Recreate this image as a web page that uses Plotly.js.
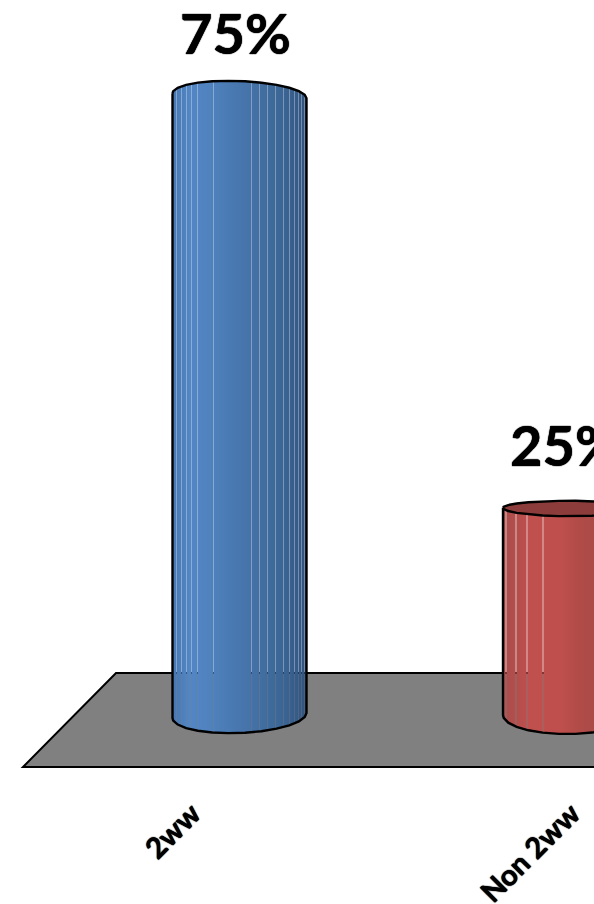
<!DOCTYPE html>
<html>
<head>
<meta charset="utf-8">
<script src="https://cdn.plot.ly/plotly-3.0.1.min.js"></script>
<style>html,body{margin:0;padding:0;background:#fff;overflow:hidden}#chart{width:594px;height:904px}</style>
</head>
<body>
<div id="chart"></div>
<script>
// Share of referrals by pathway
const categories = ['2ww', 'Non 2ww'];
const values = [75, 25];
const tickPositions = [-0.143, 1.005];

// Scale of the drawing
const WIDTH = 594, HEIGHT = 904, MARGIN_B = 134;
const PX_PER_UNIT = 8.25;        // vertical scale
const BASE_PX = 714;             // pixel row of value 0
const PX_PER_CAT = 330.5;        // spacing of the two columns
const FIRST_CENTRE_PX = 239.5;   // pixel column of the first category
const RADIUS_PX = 67;

const xRange = [-FIRST_CENTRE_PX / PX_PER_CAT, (WIDTH - FIRST_CENTRE_PX) / PX_PER_CAT];
const yRange = [(BASE_PX - (HEIGHT - MARGIN_B)) / PX_PER_UNIT, BASE_PX / PX_PER_UNIT];
const dx = p => p / PX_PER_CAT;
const dy = p => p / PX_PER_UNIT;

// Look of each column: shading stops (offset from the axis of the column, colour),
// seams between the facets and the bulge of its top and bottom edges, in pixels.
const looks = [
  {
    stops: [[-67, [70, 118, 176]], [-50, [82, 134, 196]], [-30, [80, 130, 190]], [-12, [74, 123, 180]],
            [10, [70, 115, 168]], [30, [63, 107, 156]], [50, [57, 97, 143]], [67, [50, 84, 126]]],
    seams: [-63, -58, -53, -48, -42, -26, 12, 20, 28, 36, 44, 50, 55, 59, 62, 65],
    crown: {a: 14.7, mid: -0.5, slope: -2.5},
    foot: {a: 17.5, mid: -1.5, slope: 2.5},
    cap: null
  },
  {
    stops: [[-67, [168, 77, 75]], [-55, [178, 78, 76]], [-40, [192, 80, 77]], [-10, [191, 79, 76]],
            [10, [176, 75, 72]], [30, [168, 74, 71]], [67, [150, 66, 63]]],
    seams: [-64, -54, -43, -27],
    crown: {a: 0, mid: 0, slope: 0},
    foot: {a: 20, mid: 0, slope: 1},
    cap: {back: 7, front: 8.5, fill: '#8c3d3b'}
  }
];

// Vertices of the faceted rim, by angle around the column
const FACET_ANGLES = [0];
for (let a = 8.4; a < 180; a += 14.4) FACET_ANGLES.push(a);
FACET_ANGLES.push(180);

function rim(off) {
  const c = Math.min(1, Math.abs(off) / RADIUS_PX);
  return Math.sqrt(1 - c * c);
}
function shade(off, stops) {
  let i = 0;
  while (i < stops.length - 2 && off > stops[i + 1][0]) i++;
  const [o0, c0] = stops[i], [o1, c1] = stops[i + 1];
  const t = Math.max(0, Math.min(1, (off - o0) / (o1 - o0)));
  return c0.map((v, k) => Math.round(v + (c1[k] - v) * t));
}

const traces = [];
categories.forEach((cat, idx) => {
  const value = values[idx], look = looks[idx];
  const centrePx = idx * PX_PER_CAT + FIRST_CENTRE_PX;
  const xs = [], cols = [], body = [], crownBase = [], crownH = [], footBase = [], footH = [];
  for (let p = Math.ceil(centrePx - RADIUS_PX); p < centrePx + RADIUS_PX; p++) {
    const off = p + 0.5 - centrePx;
    const rgb = shade(off, look.stops);
    const seam = look.seams.some(s => Math.abs(s - off) <= 0.5);
    xs.push(dx(p + 0.5 - FIRST_CENTRE_PX));
    cols.push(`rgba(${rgb[0]},${rgb[1]},${rgb[2]},${seam ? 0.68 : 1})`);
    const top = dy(look.crown.a * rim(off) + look.crown.mid + look.crown.slope * off / RADIUS_PX);
    body.push(value + Math.min(0, top));
    crownBase.push(value);
    crownH.push(Math.max(0, top));
    const low = dy(-look.foot.a * rim(off) + look.foot.mid + look.foot.slope * off / RADIUS_PX);
    footBase.push(low);
    footH.push(-low);
  }
  const width = xs.map(() => 1 / PX_PER_CAT);
  const bar = {type: 'bar', x: xs, width, marker: {color: cols, line: {width: 0}}, hoverinfo: 'skip', showlegend: false};
  traces.push(Object.assign({}, bar, {name: cat, y: body}));
  if (look.crown.a) traces.push(Object.assign({}, bar, {name: cat + ' top', base: crownBase, y: crownH}));
  traces.push(Object.assign({}, bar, {name: cat + ' foot', base: footBase, y: footH}));

  // Outline of the faceted column
  const ox = [], oy = [];
  FACET_ANGLES.forEach(a => {
    const off = -RADIUS_PX * Math.cos(a * Math.PI / 180);
    const s = Math.sin(a * Math.PI / 180);
    ox.push(idx + dx(off));
    oy.push(value + dy(look.crown.a * s + look.crown.mid + look.crown.slope * off / RADIUS_PX));
  });
  FACET_ANGLES.slice().reverse().forEach(a => {
    const off = -RADIUS_PX * Math.cos(a * Math.PI / 180);
    const s = Math.sin(a * Math.PI / 180);
    ox.push(idx + dx(off));
    oy.push(dy(-look.foot.a * s + look.foot.mid + look.foot.slope * off / RADIUS_PX));
  });
  ox.push(ox[0]); oy.push(oy[0]);
  traces.push({type: 'scatter', mode: 'lines', x: ox, y: oy, line: {color: '#000', width: 2.4},
               hoverinfo: 'skip', showlegend: false});

  // Visible top face
  if (look.cap) {
    const cx = [], cy = [];
    FACET_ANGLES.forEach(a => {
      cx.push(idx + dx(-RADIUS_PX * Math.cos(a * Math.PI / 180)));
      cy.push(value + dy(look.cap.back * Math.sin(a * Math.PI / 180)));
    });
    FACET_ANGLES.slice().reverse().forEach(a => {
      cx.push(idx + dx(-RADIUS_PX * Math.cos(a * Math.PI / 180)));
      cy.push(value - dy(look.cap.front * Math.sin(a * Math.PI / 180)));
    });
    cx.push(cx[0]); cy.push(cy[0]);
    traces.push({type: 'scatter', mode: 'lines', x: cx, y: cy, fill: 'toself', fillcolor: look.cap.fill,
                 line: {color: '#000', width: 2.4}, hoverinfo: 'skip', showlegend: false});
  }
});

// Floor of the chart, behind the columns
const floorFront = dy(BASE_PX - 767), floorBack = dy(BASE_PX - 673);
const floorPath = `M ${dx(23 - FIRST_CENTRE_PX)} ${floorFront} L ${dx(116 - FIRST_CENTRE_PX)} ${floorBack} L ${xRange[1] + 1} ${floorBack} L ${xRange[1] + 1} ${floorFront} Z`;

// A soft halo thickens the bold lettering
const HEAVY = '0 0 1px #000, 0 0 1px #000';

const layout = {
  width: WIDTH, height: HEIGHT,
  margin: {l: 0, r: 0, t: 0, b: MARGIN_B, pad: 0},
  paper_bgcolor: '#fff', plot_bgcolor: '#fff',
  barmode: 'overlay', bargap: 0, bargroupgap: 0,
  showlegend: false,
  font: {family: 'Lato, sans-serif', color: '#000'},
  xaxis: {
    type: 'linear', range: xRange, tickmode: 'array', tickvals: tickPositions,
    ticktext: categories.map(c => '<b>' + c + '</b>'),
    tickangle: -45, tickfont: {family: 'Lato, sans-serif', size: 29, color: '#000', weight: 900, shadow: HEAVY},
    ticks: '', ticklabelstandoff: 20, showgrid: false, zeroline: false, showline: false, fixedrange: true
  },
  yaxis: {range: yRange, visible: false, showgrid: false, zeroline: false, fixedrange: true},
  shapes: [{type: 'path', xref: 'x', yref: 'y', layer: 'below', path: floorPath,
            fillcolor: '#808080', line: {color: '#000', width: 2}}],
  annotations: values.map((v, i) => ({
    x: i - 4.5 / PX_PER_CAT, y: v, xref: 'x', yref: 'y', yshift: 63, yanchor: 'middle', xanchor: 'center',
    text: '<b>' + v + '%</b>', showarrow: false,
    font: {family: 'Lato, sans-serif', size: 56, color: '#000', weight: 900, shadow: HEAVY}
  }))
};

Plotly.newPlot('chart', traces, layout, {displayModeBar: false, staticPlot: true});
</script>
</body>
</html>
